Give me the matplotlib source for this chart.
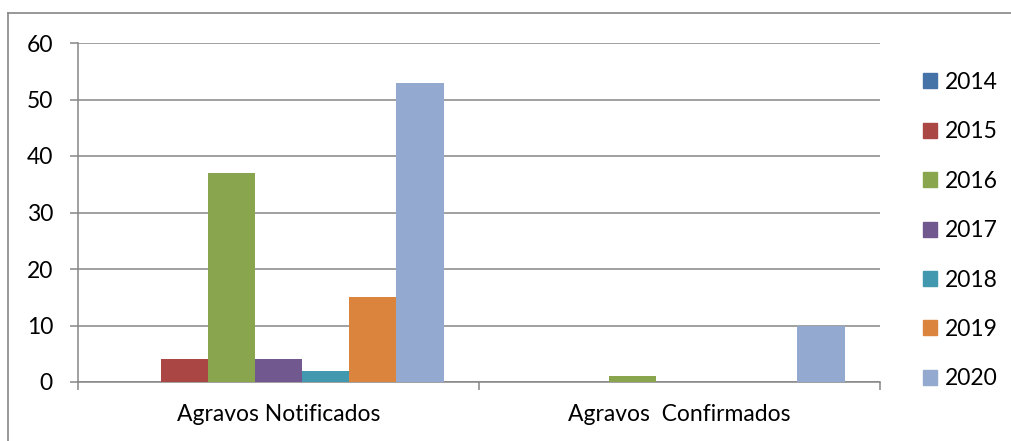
import numpy as np
import matplotlib
matplotlib.use("Agg")
import matplotlib.pyplot as plt
from matplotlib.lines import Line2D

plt.rcParams["font.family"] = ["Lato", "DejaVu Sans"]

categories = ["Agravos Notificados", "Agravos  Confirmados"]
years = ["2014", "2015", "2016", "2017", "2018", "2019", "2020"]
values = {
    "2014": [0, 0],
    "2015": [4, 0],
    "2016": [37, 1],
    "2017": [4, 0],
    "2018": [2, 0],
    "2019": [15, 0],
    "2020": [53, 10],
}
colors = ["#4572A7", "#AA4643", "#89A54E", "#71588F", "#4198AF", "#DB843D", "#93A9CF"]
yticks = [0, 10, 20, 30, 40, 50, 60]

GRID = "#868686"
FS = 16.5

fig = plt.figure(figsize=(10.11, 4.41), dpi=100)
ax = fig.add_axes([78 / 1011, 1 - 382 / 441, 802 / 1011, 339 / 441])

# Excel-style clustered columns, gap width 150%
n = len(years)
w = 1 / (n + 1.5)
x = np.arange(len(categories)) + 0.5
for i, (yr, c) in enumerate(zip(years, colors)):
    ax.bar(x + (i - (n - 1) / 2) * w, values[yr], width=w, color=c,
           edgecolor="none", zorder=3, label=yr)

ax.set_xlim(0, len(categories))
ax.set_ylim(0, 60)
ax.set_yticks(yticks)
ax.set_yticklabels([str(v) for v in yticks], fontsize=FS)
ax.yaxis.grid(True, color=GRID, linewidth=1.1, zorder=0)
ax.tick_params(axis="y", length=6, width=1.1, color=GRID, pad=12)

# boundary ticks on major, labels on minor at category centres
ax.set_xticks(np.arange(len(categories) + 1))
ax.set_xticklabels([])
ax.set_xticks(x, minor=True)
ax.set_xticklabels(categories, minor=True, fontsize=FS)
ax.tick_params(axis="x", which="major", length=6, width=1.1, color=GRID)
ax.tick_params(axis="x", which="minor", length=0, pad=16)

for s in ["top", "right"]:
    ax.spines[s].set_visible(False)
for s in ["left", "bottom"]:
    ax.spines[s].set_color(GRID)
    ax.spines[s].set_linewidth(1.1)

# legend on the right
handles = [plt.Rectangle((0, 0), 1, 1, color=c) for c in colors]
fig.legend(handles, years, loc="center left", bbox_to_anchor=(0.904, 0.477),
           frameon=False, fontsize=FS, handlelength=0.62, handleheight=0.62,
           handletextpad=0.35, labelspacing=1.24, borderaxespad=0)

# chart border (left and top edges visible)
fig.add_artist(Line2D([8 / 1011, 8 / 1011], [0, 1 - 13 / 441],
                      transform=fig.transFigure, color=GRID, linewidth=1.2))
fig.add_artist(Line2D([8 / 1011, 1], [1 - 13 / 441, 1 - 13 / 441],
                      transform=fig.transFigure, color=GRID, linewidth=1.2))

fig.savefig("out.png", dpi=100, facecolor="white")
